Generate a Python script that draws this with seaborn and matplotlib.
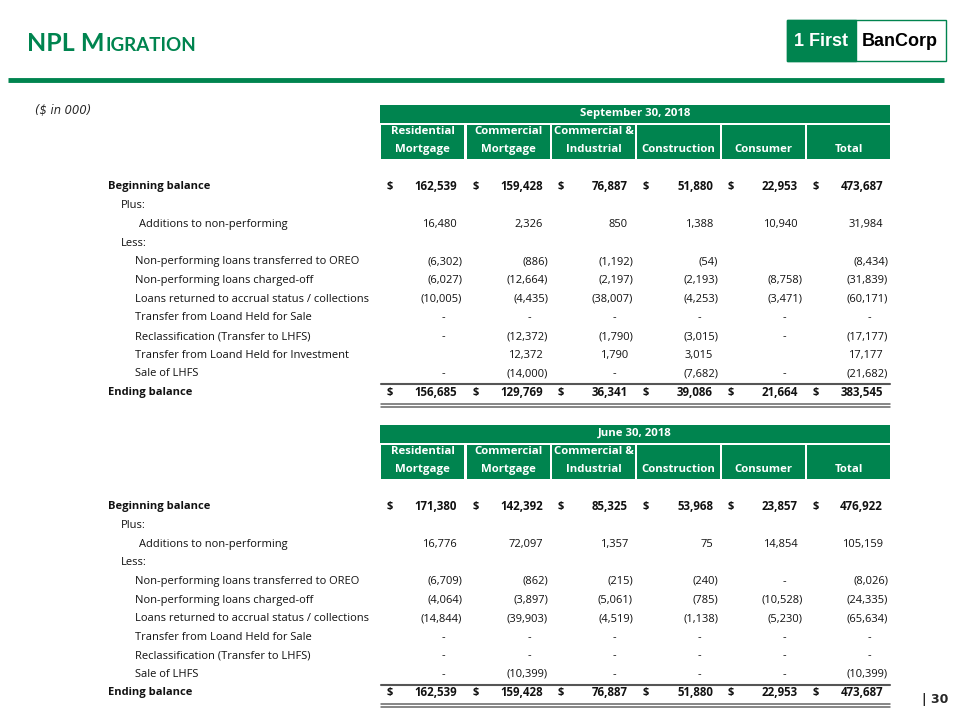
import matplotlib
matplotlib.use("Agg")
import matplotlib.pyplot as plt
import seaborn as sns
from matplotlib.patches import Rectangle

sns.set_theme(style="white")
plt.rcParams['font.family'] = ['DejaVu Sans']

GREEN = "#00844F"

# ---------------- data ----------------
categories = [("Residential", "Mortgage"), ("Commercial", "Mortgage"),
              ("Commercial &", "Industrial"), ("", "Construction"),
              ("", "Consumer"), ("", "Total")]

row_labels_sep = ["Beginning balance", "Plus:", "Additions to non-performing", "Less:",
                  "Non-performing loans transferred to OREO",
                  "Non-performing loans charged-off",
                  "Loans returned to accrual status / collections",
                  "Transfer from Loand Held for Sale",
                  "Reclassification (Transfer to LHFS)",
                  "Transfer from Loand Held for Investment",
                  "Sale of LHFS", "Ending balance"]
row_labels_jun = ["Beginning balance", "Plus:", "Additions to non-performing", "Less:",
                  "Non-performing loans transferred to OREO",
                  "Non-performing loans charged-off",
                  "Loans returned to accrual status / collections",
                  "Transfer from Loand Held for Sale",
                  "Reclassification (Transfer to LHFS)",
                  "Sale of LHFS", "Ending balance"]

# None = blank cell, 0 = dash
sep_beginning = [162539, 159428, 76887, 51880, 22953, 473687]
sep_additions = [16480, 2326, 850, 1388, 10940, 31984]
sep_oreo = [-6302, -886, -1192, -54, None, -8434]
sep_chargeoff = [-6027, -12664, -2197, -2193, -8758, -31839]
sep_returned = [-10005, -4435, -38007, -4253, -3471, -60171]
sep_from_hfs = [0, 0, 0, 0, 0, 0]
sep_reclass = [0, -12372, -1790, -3015, 0, -17177]
sep_from_hfi = [None, 12372, 1790, 3015, None, 17177]
sep_sale = [0, -14000, 0, -7682, 0, -21682]
sep_ending = [156685, 129769, 36341, 39086, 21664, 383545]

jun_beginning = [171380, 142392, 85325, 53968, 23857, 476922]
jun_additions = [16776, 72097, 1357, 75, 14854, 105159]
jun_oreo = [-6709, -862, -215, -240, 0, -8026]
jun_chargeoff = [-4064, -3897, -5061, -785, -10528, -24335]
jun_returned = [-14844, -39903, -4519, -1138, -5230, -65634]
jun_from_hfs = [0, 0, 0, 0, 0, 0]
jun_reclass = [0, 0, 0, 0, 0, 0]
jun_sale = [0, -10399, 0, 0, 0, -10399]
jun_ending = [162539, 159428, 76887, 51880, 22953, 473687]

# ---------------- figure ----------------
fig = plt.figure(figsize=(9.6, 7.2), dpi=100)
ax = fig.add_axes([0, 0, 1, 1])
ax.set_xlim(0, 960)
ax.set_ylim(720, 0)
ax.axis("off")

HFS = 8.2          # header font size
FS = 8.0           # body font size
BODY = "Open Sans"
TXT = "#111111"
col_left = [380, 466, 551, 636, 721, 806]
col_w = 85
table_right = 890

# title
t = ax.text(27, 51, "NPL M", fontsize=18, fontweight="bold", color=GREEN,
            va="baseline", ha="left", family="Lato")
fig.canvas.draw()
bb = t.get_window_extent()
x_end = ax.transData.inverted().transform((bb.x1, bb.y0))[0]
ax.text(x_end + 1, 51, "IGRATION", fontsize=13.5, fontweight="bold", color=GREEN,
        va="baseline", ha="left", family="Lato")

# rule
ax.plot([8, 944], [80, 80], color=GREEN, lw=3.5, solid_capstyle="butt")

# logo
ax.add_patch(Rectangle((787, 20), 159, 41, facecolor="white", edgecolor=GREEN, lw=1))
ax.add_patch(Rectangle((787, 20), 69, 41, facecolor=GREEN, edgecolor=GREEN, lw=1))
ax.text(821, 41, "1 First", fontsize=13, fontweight="bold", color="white",
        ha="center", va="center", family="Liberation Sans")
ax.text(900, 41, "BanCorp", fontsize=13, fontweight="bold", color="black",
        ha="center", va="center", family="Liberation Sans")

ax.text(35, 110, "($ in 000)", fontsize=8.3, style="italic", ha="left", va="center")

ax.text(948, 700, "| 30", fontsize=9, fontweight="bold", ha="right", va="center")


def fmt(v):
    return f"{abs(v):,}"


def draw_table(title, band_top, labels, rows, y0, step):
    # band
    ax.add_patch(Rectangle((380, band_top), table_right - 380, 18, facecolor=GREEN, edgecolor="none"))
    ax.text((380 + table_right) / 2, band_top + 8.5, title, fontsize=HFS, color="white",
            ha="center", va="center", family=BODY, fontweight="bold")
    ctop = band_top + 19.5
    for i, (l1, l2) in enumerate(categories):
        ax.add_patch(Rectangle((col_left[i] + 1, ctop), col_w - 2, 34, facecolor=GREEN, edgecolor="none"))
        cx = col_left[i] + col_w / 2
        if l1:
            ax.text(cx, ctop + 7, l1, fontsize=HFS, color="white", ha="center", va="center",
                    family=BODY, fontweight="bold")
        ax.text(cx, ctop + 25, l2, fontsize=HFS, color="white", ha="center", va="center",
                family=BODY, fontweight="bold")

    indents = {"Beginning balance": 108, "Ending balance": 108, "Plus:": 121,
               "Less:": 121, "Additions to non-performing": 139}
    for r, (lab, vals) in enumerate(zip(labels, rows)):
        y = y0 + r * step
        bold = lab in ("Beginning balance", "Ending balance")
        w = "bold" if bold else "normal"
        ax.text(indents.get(lab, 135), y, lab, fontsize=FS, fontweight=w,
                ha="left", va="center", color=TXT, family=BODY)
        if vals is None:
            continue
        for i, v in enumerate(vals):
            right = col_left[i] + 77
            if bold:
                ax.text(col_left[i] + 7, y, "$", fontsize=FS, fontweight=w, ha="left",
                        va="center", color=TXT, family=BODY)
            if v is None:
                continue
            if v == 0:
                ax.text(right - 14, y, "-", fontsize=FS, ha="center", va="center",
                        color=TXT, family=BODY)
            elif v < 0:
                ax.text(right + 5, y, f"({fmt(v)})", fontsize=FS, fontweight=w, ha="right",
                        va="center", color=TXT, family=BODY)
            else:
                ax.text(right, y, fmt(v), fontsize=FS + (0.3 if bold else 0), fontweight=w,
                        ha="right", va="center", color=TXT, family=BODY)
    y_end = y0 + (len(labels) - 1) * step
    ax.plot([381, table_right], [y_end - 8.5, y_end - 8.5], color="#555555", lw=1.5)
    ax.plot([381, table_right], [y_end + 11, y_end + 11], color="#666666", lw=1.1)
    ax.plot([381, table_right], [y_end + 14, y_end + 14], color="#666666", lw=1.1)


sep_rows = [sep_beginning, None, sep_additions, None, sep_oreo, sep_chargeoff, sep_returned,
            sep_from_hfs, sep_reclass, sep_from_hfi, sep_sale, sep_ending]
jun_rows = [jun_beginning, None, jun_additions, None, jun_oreo, jun_chargeoff, jun_returned,
            jun_from_hfs, jun_reclass, jun_sale, jun_ending]

draw_table("September 30, 2018", 105, row_labels_sep, sep_rows, 187, 18.7)
draw_table("June 30, 2018", 425, row_labels_jun, jun_rows, 507, 18.6)

fig.savefig("out.png", dpi=100)
